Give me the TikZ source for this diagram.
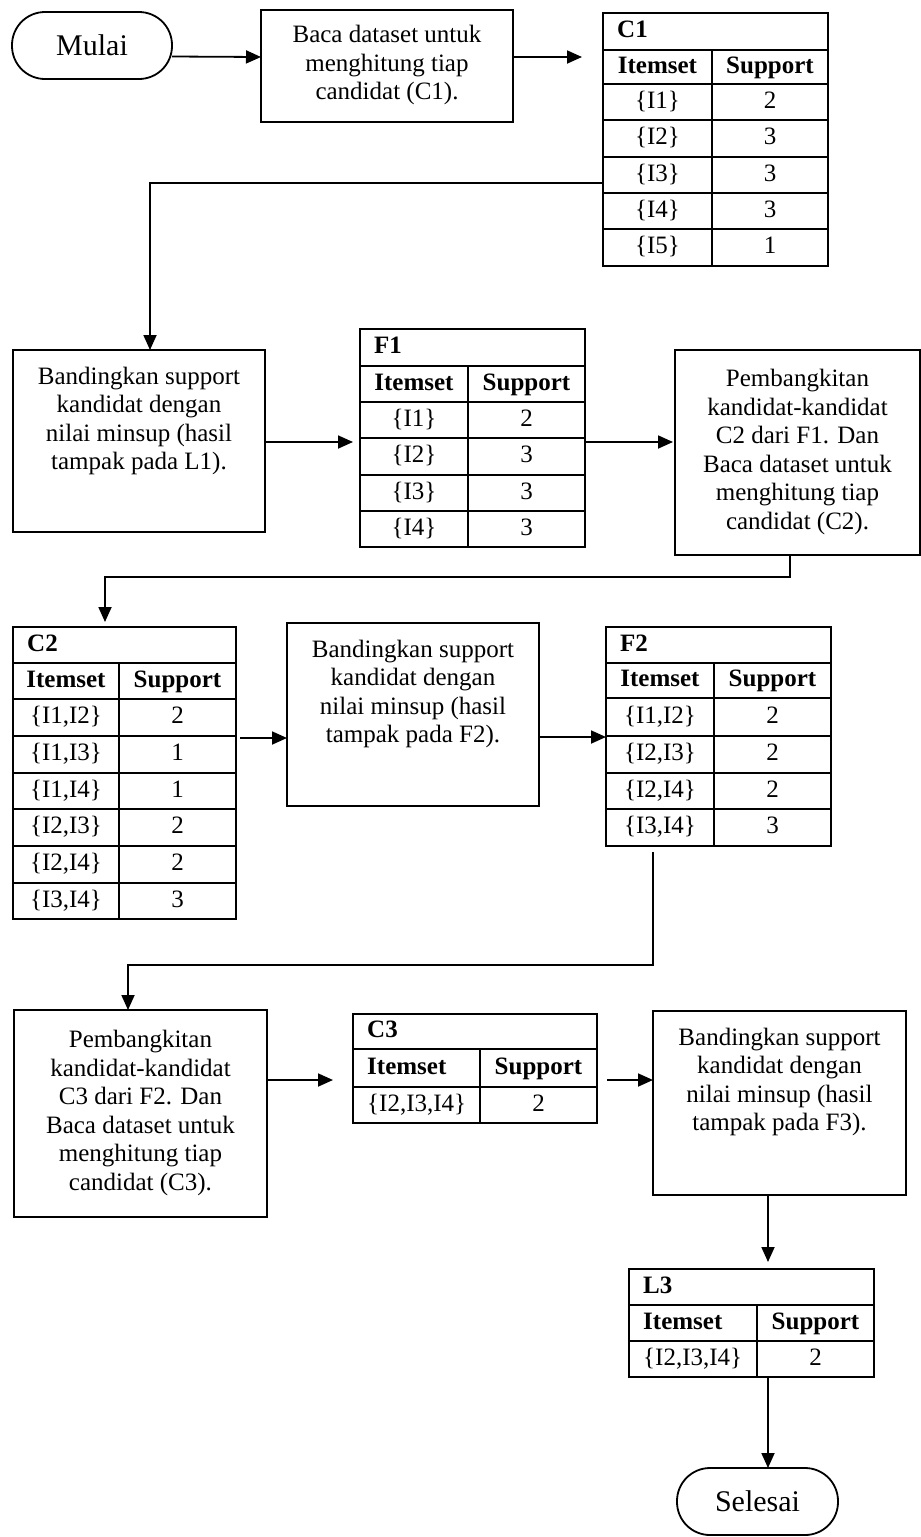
\documentclass[tikz,border=0pt]{standalone}
\usepackage{fontspec}
\setmainfont{Liberation Serif}
\usetikzlibrary{arrows.meta}
\newcommand{\trow}[6]{%
  \node[cell] (#1a) at (#2,#4) {#5};
  \node[cell] (#1b) at (#3,#4) {#6};}
\newcommand{\trowL}[6]{%
  \node[cell,anchor=west] (#1a) at (#2,#4) {#5};
  \node[cell] (#1b) at (#3,#4) {#6};}
\begin{document}
\begin{tikzpicture}[x=1pt,y=-1pt,
  ln/.style={line width=1.8pt},
  arr/.style={ln,-{Triangle[length=15pt,width=13pt]}},
  box/.style={draw,ln,anchor=north west,inner sep=0pt,outer sep=0pt},
  term/.style={box,rounded corners=33pt,font=\fontsize{30}{34}\selectfont},
  txt/.style={align=center,inner sep=0pt,font=\fontsize{25}{28.5}\selectfont},
  cell/.style={inner sep=0pt,text height=17pt,text depth=5pt,font=\fontsize{25}{28.5}\selectfont},
  hcell/.style={cell,font=\fontsize{25}{28.5}\selectfont\bfseries},
]
\path[use as bounding box,fill=white] (0,0) rectangle (921,1537);

% ---------- terminals and process boxes ----------
\node[term,minimum width=160pt,minimum height=67pt] (mulai) at (12,12) {Mulai};
\node[term,minimum width=161pt,minimum height=67pt] (selesai) at (677,1468) {Selesai};

\node[box,minimum width=252pt,minimum height=112pt] (b1) at (261,10) {};
\node[txt] (b1t) at (387,65) {Baca dataset untuk\\menghitung tiap\\candidat (C1).};

\node[box,minimum width=252pt,minimum height=182pt] (b2) at (13,350) {};
\node[txt] (b2t) at (139,421) {Bandingkan support\\kandidat dengan\\nilai minsup (hasil\\tampak pada L1).};

\node[box,minimum width=245pt,minimum height=205pt] (p2) at (675,350) {};
\node[txt] (p2t) at (797.5,452) {Pembangkitan\\kandidat-kandidat\\C2 dari F1. Dan\\Baca dataset untuk\\menghitung tiap\\candidat (C2).};

\node[box,minimum width=252pt,minimum height=183pt] (b3) at (287,623) {};
\node[txt] (b3t) at (413,694) {Bandingkan support\\kandidat dengan\\nilai minsup (hasil\\tampak pada F2).};

\node[box,minimum width=253pt,minimum height=207pt] (p3) at (14,1010) {};
\node[txt] (p3t) at (140.5,1113) {Pembangkitan\\kandidat-kandidat\\C3 dari F2. Dan\\Baca dataset untuk\\menghitung tiap\\candidat (C3).};

\node[box,minimum width=253pt,minimum height=184pt] (b4) at (653,1011) {};
\node[txt] (b4t) at (779.5,1082) {Bandingkan support\\kandidat dengan\\nilai minsup (hasil\\tampak pada F3).};

% ---------- table C1 ----------
\node[box,minimum width=225pt,minimum height=253pt] (c1) at (603,13) {};
\foreach \y in {50,84,120,157,193,229} \draw[ln] (603,\y) -- (828,\y);
\draw[ln] (712,50) -- (712,266);
\node[hcell,anchor=west] (c1ti) at (617,31.5) {C1};
\node[hcell] (c1h1) at (657.5,67) {Itemset};
\node[hcell] (c1h2) at (770,67) {Support};
\trow{c1r1}{657.5}{770}{102}{\{I1\}}{2}
\trow{c1r2}{657.5}{770}{138.5}{\{I2\}}{3}
\trow{c1r3}{657.5}{770}{175}{\{I3\}}{3}
\trow{c1r4}{657.5}{770}{211}{\{I4\}}{3}
\trow{c1r5}{657.5}{770}{247.5}{\{I5\}}{1}

% ---------- table F1 ----------
\node[box,minimum width=225pt,minimum height=218pt] (f1) at (360,329) {};
\foreach \y in {366,402,438,475,511} \draw[ln] (360,\y) -- (585,\y);
\draw[ln] (468,366) -- (468,547);
\node[hcell,anchor=west] (f1ti) at (374,347.5) {F1};
\node[hcell] (f1h1) at (414,384) {Itemset};
\node[hcell] (f1h2) at (526.5,384) {Support};
\trow{f1r1}{414}{526.5}{420}{\{I1\}}{2}
\trow{f1r2}{414}{526.5}{456.5}{\{I2\}}{3}
\trow{f1r3}{414}{526.5}{493}{\{I3\}}{3}
\trow{f1r4}{414}{526.5}{529}{\{I4\}}{3}

% ---------- table C2 ----------
\node[box,minimum width=223pt,minimum height=292pt] (c2) at (13,627) {};
\foreach \y in {663,699,736,773,809,846,883} \draw[ln] (13,\y) -- (236,\y);
\draw[ln] (119,663) -- (119,919);
\node[hcell,anchor=west] (c2ti) at (27,645) {C2};
\node[hcell] (c2h1) at (66,681) {Itemset};
\node[hcell] (c2h2) at (177.5,681) {Support};
\trow{c2r1}{66}{177.5}{717.5}{\{I1,I2\}}{2}
\trow{c2r2}{66}{177.5}{754.5}{\{I1,I3\}}{1}
\trow{c2r3}{66}{177.5}{791}{\{I1,I4\}}{1}
\trow{c2r4}{66}{177.5}{827.5}{\{I2,I3\}}{2}
\trow{c2r5}{66}{177.5}{864.5}{\{I2,I4\}}{2}
\trow{c2r6}{66}{177.5}{901}{\{I3,I4\}}{3}

% ---------- table F2 ----------
\node[box,minimum width=225pt,minimum height=219pt] (f2) at (606,627) {};
\foreach \y in {663,698,736,773,809} \draw[ln] (606,\y) -- (831,\y);
\draw[ln] (714,663) -- (714,846);
\node[hcell,anchor=west] (f2ti) at (620,645) {F2};
\node[hcell] (f2h1) at (660,680.5) {Itemset};
\node[hcell] (f2h2) at (772.5,680.5) {Support};
\trow{f2r1}{660}{772.5}{717}{\{I1,I2\}}{2}
\trow{f2r2}{660}{772.5}{754.5}{\{I2,I3\}}{2}
\trow{f2r3}{660}{772.5}{791}{\{I2,I4\}}{2}
\trow{f2r4}{660}{772.5}{827.5}{\{I3,I4\}}{3}

% ---------- table C3 ----------
\node[box,minimum width=244pt,minimum height=109pt] (c3) at (353,1014) {};
\foreach \y in {1049,1087} \draw[ln] (353,\y) -- (597,\y);
\draw[ln] (480,1049) -- (480,1123);
\node[hcell,anchor=west] (c3ti) at (367,1031.5) {C3};
\node[hcell,anchor=west] (c3h1) at (367,1068) {Itemset};
\node[hcell] (c3h2) at (538.5,1068) {Support};
\trowL{c3r1}{367}{538.5}{1105}{\{I2,I3,I4\}}{2}

% ---------- table L3 ----------
\node[box,minimum width=245pt,minimum height=108pt] (l3) at (629,1269) {};
\foreach \y in {1305,1341} \draw[ln] (629,\y) -- (874,\y);
\draw[ln] (757,1305) -- (757,1377);
\node[hcell,anchor=west] (l3ti) at (643,1287) {L3};
\node[hcell,anchor=west] (l3h1) at (643,1323) {Itemset};
\node[hcell] (l3h2) at (815.5,1323) {Support};
\trowL{l3r1}{643}{815.5}{1359}{\{I2,I3,I4\}}{2}

% ---------- connectors ----------
\coordinate (y57) at (0,57);
\coordinate (k1) at (150,183);
\coordinate (y442) at (0,442);
\coordinate (k2a) at (790,577);
\coordinate (k2b) at (105,577);
\coordinate (y738) at (0,738);
\coordinate (y737) at (0,737);
\coordinate (k3a) at (653,965);
\coordinate (k3b) at (128,965);
\coordinate (y1080) at (0,1080);
\coordinate (x768) at (768,0);

\draw[arr] ([yshift=-11pt]mulai.east) -- (b1.west |- y57);
\draw[arr,shorten >=21pt] (b1.east |- y57) -- (c1.west |- y57);
\draw[arr] (c1.west |- k1) -| (b2.north -| k1);
\draw[arr,shorten >=7pt] (b2.east |- y442) -- (f1.west |- y442);
\draw[arr,shorten >=2pt] (f1.east |- y442) -- (p2.west |- y442);
\draw[arr,shorten >=5pt] (p2.south -| k2a) -- (k2a) -- (k2b) -- (c2.north -| k2b);
\draw[arr,shorten <=4pt] (c2.east |- y738) -- (b3.west |- y738);
\draw[arr] (b3.east |- y737) -- (f2.west |- y737);
\draw[arr,shorten <=6pt] (f2.south -| k3a) -- (k3a) -- (k3b) -- (p3.north -| k3b);
\draw[arr,shorten >=20pt] (p3.east |- y1080) -- (c3.west |- y1080);
\draw[arr,shorten <=10pt] (c3.east |- y1080) -- (b4.west |- y1080);
\draw[arr,shorten >=7pt] (b4.south -| x768) -- (l3.north -| x768);
\draw[arr] (l3.south -| x768) -- (selesai.north -| x768);
\end{tikzpicture}
\end{document}
